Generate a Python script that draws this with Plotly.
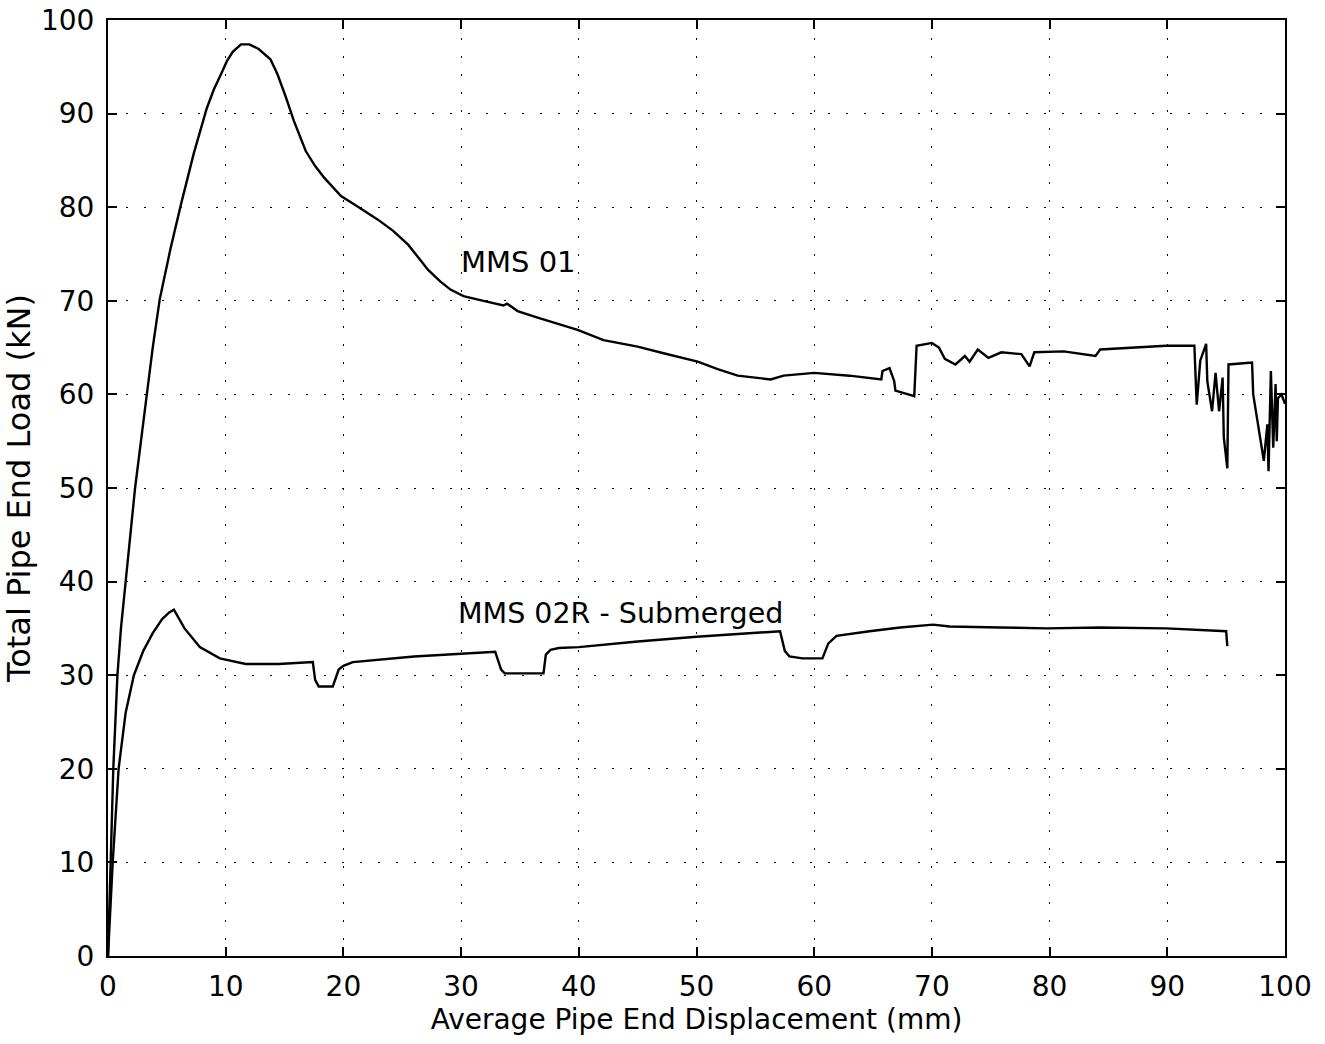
import plotly.graph_objects as go

# MMS 01 (dry) load-displacement curve
mms01_x = [0, 0.2, 0.45, 0.8, 1.1, 1.5, 1.9, 2.3, 2.8, 3.3, 3.8, 4.4, 5.3, 6.2, 7.3, 8.4, 9.0,
           9.6, 10.1, 10.6, 11.3, 12.0, 12.8, 13.8, 14.4, 15.1, 15.8, 16.8, 17.6, 18.4, 19.8,
           21.3, 22.9, 24.2, 25.5, 27.2, 28.2, 29.1, 30.2, 31.9, 33.6, 33.9, 34.8, 36.5, 39.9,
           42.1, 45.0, 47.2, 50.1, 51.8, 53.5, 56.3, 57.4, 60.0, 63.0, 65.7, 65.8, 66.4, 66.8,
           66.9, 68.5, 68.7, 70.0, 70.6, 71.1, 72.0, 72.8, 73.2, 73.9, 74.8, 75.9, 77.6, 78.3,
           78.7, 81.2, 83.9, 84.3, 89.9, 92.3, 92.5, 92.8, 93.3, 93.4, 93.8, 94.1, 94.4, 94.7,
           94.8, 95.1, 95.2, 97.2, 97.3, 97.9, 98.2, 98.5, 98.6, 98.8, 99.0, 99.2, 99.3, 99.4,
           99.7, 100.0]
mms01_y = [0, 10, 20, 30, 35, 40, 45, 50, 55, 60, 65, 70.2, 75.5, 80.3, 85.8, 90.6, 92.6,
           94.2, 95.6, 96.6, 97.4, 97.4, 96.9, 95.8, 94.2, 91.8, 89.2, 86.0, 84.4, 83.1, 81.2,
           80.0, 78.7, 77.5, 76.0, 73.3, 72.1, 71.2, 70.5, 70.0, 69.5, 69.7, 68.9, 68.2, 66.9,
           65.8, 65.1, 64.4, 63.5, 62.7, 62.0, 61.6, 62.0, 62.3, 62.0, 61.6, 62.5, 62.8, 61.4,
           60.4, 59.8, 65.2, 65.5, 65.0, 63.8, 63.2, 64.1, 63.5, 64.8, 63.9, 64.5, 64.3, 63.0,
           64.5, 64.6, 64.1, 64.8, 65.2, 65.2, 58.9, 63.6, 65.4, 61.4, 58.2, 62.3, 58.2, 61.8,
           55.4, 52.1, 63.2, 63.4, 60.0, 55.0, 52.9, 56.8, 51.8, 62.5, 54.3, 61.1, 55.0, 59.6,
           60.0, 59.0]

# MMS 02R - Submerged load-displacement curve
mms02_x = [0, 0.4, 0.9, 1.5, 2.2, 3.0, 3.8, 4.6, 5.2, 5.6, 6.5, 7.8, 9.5, 11.7, 14.5, 17.4,
           17.6, 17.9, 19.1, 19.6, 20.0, 20.8, 26.0, 32.9, 33.4, 33.7, 37.0, 37.2, 37.6, 38.3,
           40.0, 45.0, 50.0, 57.1, 57.5, 57.9, 59.0, 60.7, 61.2, 61.9, 64.7, 67.3, 70.1, 71.5,
           75.8, 79.8, 84.3, 89.9, 95.0, 95.1]
mms02_y = [0, 10, 20, 26, 30, 32.6, 34.5, 36.0, 36.7, 37.0, 35.0, 33.0, 31.8, 31.2, 31.2, 31.4,
           29.5, 28.8, 28.8, 30.6, 31.0, 31.4, 32.0, 32.5, 30.6, 30.2, 30.2, 32.2, 32.7, 32.9,
           33.0, 33.6, 34.1, 34.7, 32.6, 32.0, 31.8, 31.8, 33.4, 34.2, 34.7, 35.1, 35.4, 35.2,
           35.1, 35.0, 35.1, 35.0, 34.7, 33.1]

x_ticks = [0, 10, 20, 30, 40, 50, 60, 70, 80, 90, 100]
y_ticks = [0, 10, 20, 30, 40, 50, 60, 70, 80, 90, 100]

font_family = "DejaVu Sans, Liberation Sans, Arial, sans-serif"

fig = go.Figure()
fig.add_trace(go.Scatter(x=mms01_x, y=mms01_y, mode="lines",
                         line=dict(color="black", width=2.4), showlegend=False))
fig.add_trace(go.Scatter(x=mms02_x, y=mms02_y, mode="lines",
                         line=dict(color="black", width=2.4), showlegend=False))

fig.add_annotation(x=29.8, y=74.1, text="MMS 01", showarrow=False, xanchor="left",
                   yanchor="middle", font=dict(size=29, color="black", family=font_family))
fig.add_annotation(x=29.6, y=36.6, text="MMS 02R - Submerged", showarrow=False,
                   xanchor="left", yanchor="middle",
                   font=dict(size=28.5, color="black", family=font_family))

axis_common = dict(
    showline=True, linecolor="black", linewidth=2, mirror="ticks",
    ticks="inside", ticklen=9, tickcolor="black", tickwidth=1.5,
    showgrid=True, gridcolor="black", gridwidth=1.2, griddash="2px,16px",
    zeroline=False, ticklabeloverflow="allow", automargin=False,
    tickfont=dict(size=28, color="black", family=font_family),
)

fig.update_xaxes(range=[0, 100], tickvals=x_ticks, ticktext=[str(v) for v in x_ticks],
                 ticklabelstandoff=4,
                 title=dict(text="Average Pipe End Displacement (mm)", standoff=4,
                            font=dict(size=28, color="black", family=font_family)),
                 **axis_common)
fig.update_yaxes(range=[0, 100], tickvals=y_ticks, ticktext=[str(v) for v in y_ticks],
                 ticklabelstandoff=6,
                 title=dict(text="Total Pipe End Load (kN)", standoff=4,
                            font=dict(size=32, color="black", family=font_family)),
                 **axis_common)

fig.update_layout(
    width=1325, height=1044,
    margin=dict(l=108, r=40, t=20, b=88),
    paper_bgcolor="white", plot_bgcolor="white",
    font=dict(family=font_family, color="black"),
)

fig.write_html("out.html", config={"displayModeBar": False},
               post_script="document.body.style.margin='0';document.body.style.overflow='hidden';")
